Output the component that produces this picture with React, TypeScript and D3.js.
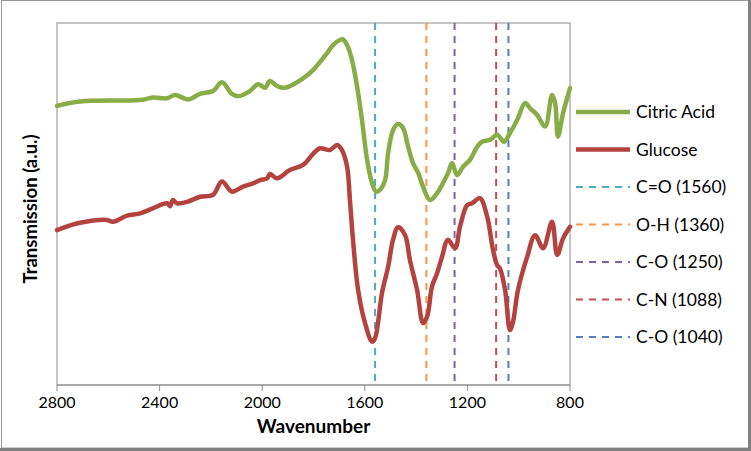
import React from 'react';
import * as d3 from 'd3';

// [wavenumber, transmission (a.u.)]
const citricAcid: [number, number][] = [
  [2800, 77.1], [2710, 78.3], [2554, 78.6], [2476, 78.7], [2426, 79.4], [2371, 79.2],
  [2340, 80.1], [2289, 78.9], [2242, 80.4], [2192, 81.2], [2157, 83.6], [2118, 80.4],
  [2094, 79.8], [2048, 81.2], [2016, 83.1], [1989, 82.1], [1970, 84.0], [1942, 82.6],
  [1911, 82.1], [1841, 84.7], [1802, 87.0], [1747, 91.7], [1724, 93.9], [1697, 95.3],
  [1685, 95.5], [1669, 93.9], [1650, 89.8], [1630, 82.4], [1611, 73.2], [1591, 62.2],
  [1572, 55.8], [1556, 53.4], [1541, 53.9], [1521, 56.6], [1509, 64.1], [1490, 70.4],
  [1470, 72.1], [1451, 71.0], [1431, 65.8], [1412, 61.3], [1392, 58.6], [1373, 54.8],
  [1346, 51.1], [1318, 53.0], [1295, 55.8], [1275, 58.6], [1260, 61.3], [1240, 58.0],
  [1217, 60.3], [1190, 62.2], [1162, 65.8], [1143, 67.2], [1112, 67.7], [1084, 69.1],
  [1057, 67.2], [1034, 69.6], [1006, 73.2], [975, 77.9], [956, 76.5], [928, 74.6],
  [897, 71.4], [870, 80.1], [858, 77.9], [847, 68.6], [827, 75.1], [800, 82.0],
];

const glucose: [number, number][] = [
  [2800, 42.8], [2710, 44.8], [2605, 45.6], [2582, 45.1], [2527, 46.8], [2476, 47.4],
  [2426, 48.8], [2371, 50.2], [2359, 49.4], [2348, 51.1], [2332, 50.2], [2293, 50.6],
  [2242, 52.0], [2192, 52.5], [2157, 56.2], [2118, 53.4], [2075, 54.8], [2036, 55.7],
  [2008, 56.6], [1981, 57.1], [1970, 58.3], [1942, 57.1], [1892, 59.4], [1841, 60.8],
  [1802, 63.8], [1775, 65.4], [1736, 64.9], [1708, 66.3], [1689, 64.9], [1669, 60.3],
  [1658, 51.1], [1646, 40.1], [1626, 26.2], [1599, 17.1], [1572, 12.0], [1560, 13.0],
  [1533, 25.4], [1509, 32.7], [1490, 40.1], [1470, 43.6], [1443, 41.4], [1424, 34.5],
  [1396, 26.2], [1373, 17.1], [1357, 18.9], [1338, 27.2], [1318, 30.9], [1299, 35.4],
  [1276, 40.1], [1248, 37.8], [1229, 43.7], [1201, 49.7], [1182, 50.2], [1151, 51.6],
  [1123, 46.5], [1100, 37.3], [1084, 33.1], [1073, 32.2], [1053, 26.2], [1034, 15.2],
  [1022, 17.5], [1003, 26.2], [967, 35.4], [936, 41.4], [905, 37.8], [870, 45.1],
  [850, 35.9], [827, 40.5], [800, 43.7],
];

const bandNames = ['C=O', 'O-H', 'C-O', 'C-N', 'C-O'];
const bandPositions = [1560, 1360, 1250, 1088, 1040];
const bandColors = ['#4bacc6', '#f79646', '#8064a2', '#c0504d', '#4f81bd'];

const xTicks = [2800, 2400, 2000, 1600, 1200, 800];

const W = 751;
const H = 451;
const plot = { left: 57, right: 570, top: 23, bottom: 385 };
const font = 'Lato, "Open Sans", sans-serif';

export default function App() {
  const x = d3.scaleLinear().domain([2800, 800]).range([plot.left, plot.right]);
  const y = d3.scaleLinear().domain([0, 100]).range([plot.bottom, plot.top]);

  const line = d3.line<[number, number]>()
    .x(d => x(d[0]))
    .y(d => y(d[1]))
    .curve(d3.curveCatmullRom.alpha(0.5));

  const series = [
    { name: 'Citric Acid', data: citricAcid, color: '#88ad46' },
    { name: 'Glucose', data: glucose, color: '#b4423e' },
  ];

  const legendItems = [
    ...series.map(s => ({ label: s.name, color: s.color, dashed: false })),
    ...bandNames.map((n, i) => ({ label: `${n} (${bandPositions[i]})`, color: bandColors[i], dashed: true })),
  ];

  return (
    <svg width={W} height={H} style={{ position: 'absolute', left: 0, top: 0, fontFamily: font }}>
      <rect x={0} y={0} width={W} height={H} fill="#fff" />
      {/* outer frame */}
      <rect x={1.5} y={0.5} width={W - 4} height={H - 3.5} fill="none" stroke="#9a9a9a" strokeWidth={1} />
      <line x1={W - 1.5} y1={0} x2={W - 1.5} y2={H} stroke="#808080" strokeWidth={3} />
      <line x1={0} y1={H - 1.5} x2={W} y2={H - 1.5} stroke="#808080" strokeWidth={3} />

      {/* plot border */}
      <rect x={plot.left} y={plot.top} width={plot.right - plot.left} height={plot.bottom - plot.top}
        fill="none" stroke="#8c8c8c" strokeWidth={1} />

      {/* band markers */}
      {bandPositions.map((b, i) => (
        <line key={i} x1={x(b)} x2={x(b)} y1={plot.top} y2={plot.bottom}
          stroke={bandColors[i]} strokeWidth={2} strokeDasharray="7,6" />
      ))}

      {/* spectra */}
      {series.map(s => (
        <path key={s.name} d={line(s.data) || ''} fill="none" stroke={s.color}
          strokeWidth={4.5} strokeLinejoin="round" strokeLinecap="round" />
      ))}

      {/* x axis */}
      <line x1={plot.left} x2={plot.right} y1={plot.bottom} y2={plot.bottom} stroke="#8c8c8c" />
      {xTicks.map(t => (
        <g key={t} transform={`translate(${x(t)},0)`}>
          <line y1={plot.bottom} y2={plot.bottom + 6} stroke="#8c8c8c" />
          <text y={plot.bottom + 23} textAnchor="middle" fontSize={16} fill="#000">{t}</text>
        </g>
      ))}
      <text x={(plot.left + plot.right) / 2} y={433} textAnchor="middle" fontSize={19} fontWeight="bold">Wavenumber</text>
      <text transform={`translate(37,${(plot.top + plot.bottom) / 2 + 5}) rotate(-90)`} textAnchor="middle"
        fontSize={18.5} fontWeight="bold">Transmission (a.u.)</text>

      {/* legend */}
      {legendItems.map((it, i) => {
        const ly = 112 + i * 37.5;
        return (
          <g key={i}>
            <line x1={576} x2={630} y1={ly} y2={ly} stroke={it.color}
              strokeWidth={it.dashed ? 2 : 4.5} strokeDasharray={it.dashed ? '7,6' : undefined} />
            <text x={636} y={ly + 6} fontSize={17.5} fill="#000">{it.label}</text>
          </g>
        );
      })}
    </svg>
  );
}
